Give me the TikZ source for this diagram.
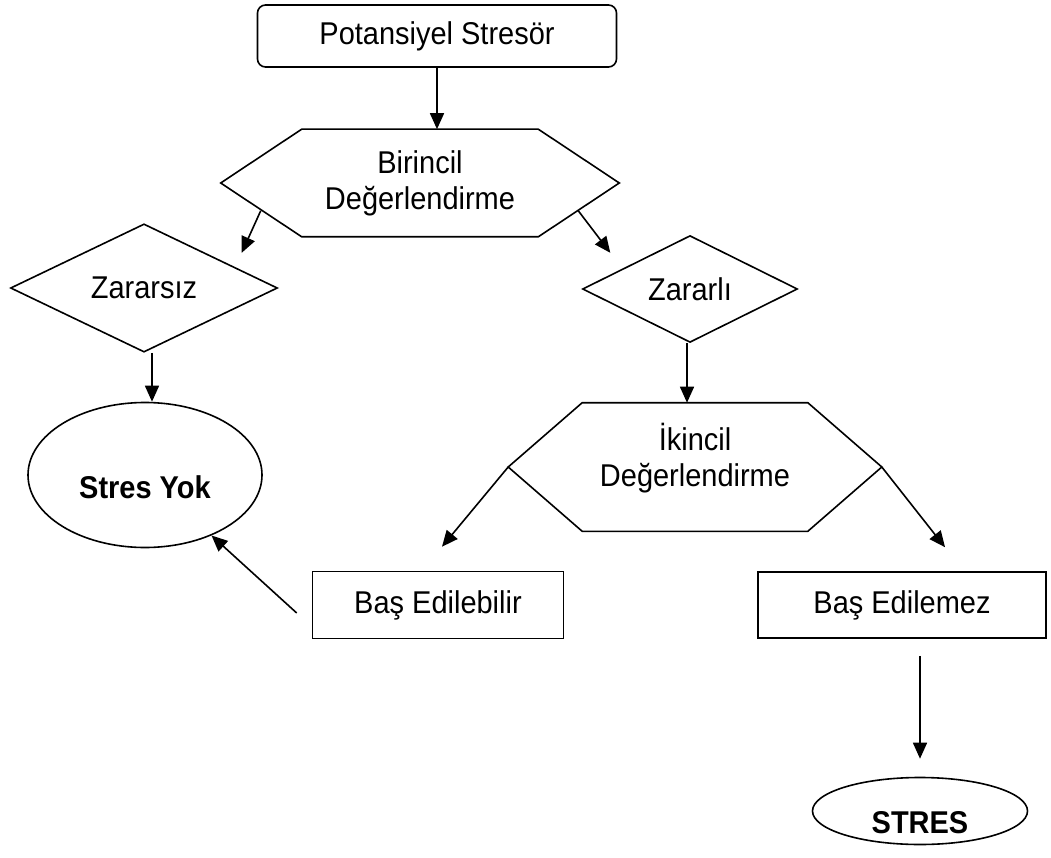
\documentclass[tikz,border=0pt]{standalone}
\usepackage{fontspec}
\setmainfont[FakeStretch=0.92]{Liberation Sans}
\usetikzlibrary{shapes.geometric,arrows.meta}

\newcommand{\hexpath}[2]{%
  \draw (#1.north west) -- (#1.north east) -- ([xshift=#2]#1.east)
    -- (#1.south east) -- (#1.south west) -- ([xshift=-#2]#1.west) -- cycle;}

\begin{document}
\begin{tikzpicture}[x=1pt,y=-1pt,line width=1.6pt,
	every node/.style={font=\fontsize{31.5}{36}\selectfont,align=center,inner sep=0pt},
	box/.style={draw,rectangle,minimum width=#1,minimum height=66pt},
	hexa/.style={rectangle,minimum width=#1},
	choice/.style={draw,diamond,minimum width=#1},
	endst/.style={draw,ellipse,font=\fontsize{31.5}{36}\selectfont\bfseries,text depth=0pt},
	arr/.style={-{Triangle[length=16pt,width=14pt]}}]
	\useasboundingbox (0,0) rectangle (1051,858);

	\node[box=359pt,rounded corners=8pt,minimum height=62pt] (pot) at (437,36) {Potansiyel Stresör};
	\node[hexa=235pt,minimum height=106pt] (bir) at (420,183) {Birincil\\Değerlendirme};
	\hexpath{bir}{81pt}
	\node[choice=267pt,minimum height=105pt] (zsiz) at (144,288) {Zararsız};
	\node[choice=215pt,minimum height=104pt] (zli) at (690,289) {Zararlı};
	\node[endst,minimum width=234pt,minimum height=145pt,text height=47pt] (yok) at (145,475) {Stres Yok};
	\node[hexa=224pt,minimum height=127pt,text depth=25pt] (iki) at (695,467) {İkincil\\Değerlendirme};
	\hexpath{iki}{74pt}
	\node[box=251pt,minimum height=67pt] (bas1) at (438,605) {Baş Edilebilir};
	\node[box=288pt] (bas2) at (902,605) {Baş Edilemez};
	\node[endst,minimum width=215pt,minimum height=67pt,text height=45pt] (stres) at (920,811) {STRES};

	% connectors
	\draw[arr] (pot.south) -- (pot.south |- bir.north);
	\draw[arr] ([xshift=-41pt,yshift=26pt]bir.south west) -- ([xshift=-60pt,yshift=-16pt]bir.south west);
	\draw[arr] ([xshift=40pt,yshift=26pt]bir.south east) -- ([xshift=72pt,yshift=-16pt]bir.south east);
	\draw[arr] ([xshift=8pt]zsiz.south) -- ([xshift=8pt]zsiz.south |- yok.north);
	\draw[arr] ([xshift=-3pt]zli.south) -- ([xshift=-3pt]zli.south |- iki.north);
	\draw[arr] ([xshift=-74pt]iki.west) -- ([xshift=4pt,yshift=24pt]bas1.north);
	\draw[arr] ([xshift=74pt]iki.east) -- ([xshift=43pt,yshift=24pt]bas2.north);
	\draw[arr] ([xshift=-15pt,yshift=-8pt]bas1.west) -- (yok);
	\draw[arr,shorten <=17pt,shorten >=18pt] (bas2.south -| stres.north) -- (stres.north);
\end{tikzpicture}
\end{document}
